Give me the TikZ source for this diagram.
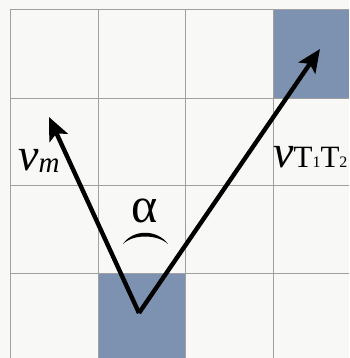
\documentclass[tikz,border=0pt]{standalone}
\usepackage{fontspec}
\setmainfont{Liberation Serif}
\usetikzlibrary{arrows.meta}
\definecolor{bg}{HTML}{F8F8F6}
\definecolor{cellblue}{HTML}{7C92B0}
\definecolor{gridgray}{HTML}{A0A0A0}
\begin{document}
\begin{tikzpicture}[x=1pt,y=-1pt,
  gridline/.style={draw=gridgray,line width=0.6pt},
  shade/.style={fill=cellblue},
  vec/.style={draw=black,line width=4.4pt,-{Stealth[length=23pt,width=20pt,inset=5pt]}},
  lbl/.style={inner sep=0pt,anchor=base west}]
\useasboundingbox (0,0) rectangle (349,358);
\fill[bg] (0,0) rectangle (349,358);
% shaded cells
\fill[shade] (273,9) rectangle (349,98);
\fill[shade] (98,273) rectangle (185,358);
% grid
\foreach \x in {10,98,185,273} \draw[gridline] (\x,9) -- (\x,358);
\foreach \y in {9,98,185,273} \draw[gridline] (10,\y) -- (349,\y);
% vectors
\coordinate (O) at (139,313);
\coordinate (Tm) at (49,117);
\coordinate (Tt) at (320,49);
\draw[vec] (O) -- (Tm);
\draw[vec] (O) -- (Tt);
% labels
\node[lbl] (vm) at (18,170) {\fontsize{46}{46}\selectfont\itshape v\raisebox{-2pt}{\fontsize{29}{29}\selectfont m}};
\node[lbl] (vt) at (273,167) {\fontsize{46}{46}\selectfont\itshape v\upshape\fontsize{31}{31}\selectfont T\fontsize{16}{16}\selectfont 1\fontsize{31}{31}\selectfont T\fontsize{16}{16}\selectfont 2};
\node[inner sep=0pt,anchor=base] (alpha) at (145,222) {\fontsize{50}{50}\selectfont α};
% angle arc
\fill[black] (123,244) .. controls (133,229) and (157,229) .. (168,244)
  .. controls (157,234) and (133,234) .. (123,244) -- cycle;
\end{tikzpicture}
\end{document}
